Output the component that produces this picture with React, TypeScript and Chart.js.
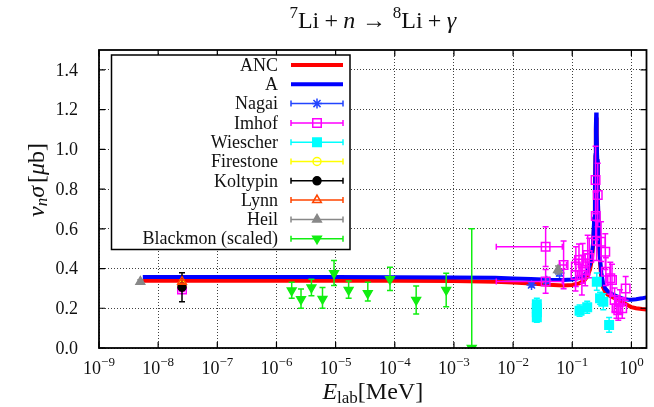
import React, { useEffect, useRef } from "react";
import { Chart, registerables } from "chart.js";
Chart.register(...registerables);

const FONT = '"Liberation Serif", "Times New Roman", serif';

// ---- axes ----
const xTickValues = [1e-9, 1e-8, 1e-7, 1e-6, 1e-5, 1e-4, 1e-3, 1e-2, 1e-1, 1];
const xTickExponents = ["\u22129", "\u22128", "\u22127", "\u22126", "\u22125", "\u22124", "\u22123", "\u22122", "\u22121", "0"];
const yTickValues = [0, 0.2, 0.4, 0.6, 0.8, 1.0, 1.2, 1.4];
const yTickLabels = ["0.0", "0.2", "0.4", "0.6", "0.8", "1.0", "1.2", "1.4"];

// ---- model curves ----
const curveE = [5.5e-9, 1e-8, 1e-7, 1e-6, 1e-5, 1e-4, 1e-3, 0.005, 0.01, 0.02, 0.04, 0.07, 0.1, 0.13, 0.16, 0.18, 0.2, 0.215, 0.225, 0.235, 0.242, 0.247, 0.251, 0.254, 0.257, 0.26, 0.264, 0.27, 0.277, 0.285, 0.295, 0.31, 0.33, 0.36, 0.4, 0.45, 0.5, 0.6, 0.7, 0.8, 0.9, 1.0, 1.2, 1.5, 1.8];
const ancV = [0.338, 0.338, 0.338, 0.338, 0.338, 0.338, 0.337, 0.334, 0.33, 0.325, 0.318, 0.315, 0.317, 0.325, 0.34, 0.36, 0.395, 0.445, 0.51, 0.64, 0.79, 0.96, 1.1, 1.16, 1.14, 1.07, 0.94, 0.78, 0.63, 0.515, 0.43, 0.355, 0.308, 0.282, 0.268, 0.26, 0.253, 0.243, 0.232, 0.222, 0.213, 0.206, 0.2, 0.196, 0.194];
const aV = [0.357, 0.357, 0.357, 0.357, 0.357, 0.356, 0.355, 0.353, 0.35, 0.347, 0.343, 0.342, 0.345, 0.352, 0.367, 0.385, 0.42, 0.47, 0.53, 0.65, 0.8, 0.97, 1.12, 1.185, 1.16, 1.08, 0.95, 0.79, 0.64, 0.53, 0.45, 0.38, 0.33, 0.3, 0.285, 0.275, 0.268, 0.258, 0.25, 0.245, 0.243, 0.243, 0.245, 0.25, 0.255];

// ---- experimental data ----
const nagaiE = [0.0205, 0.037, 0.061];
const nagaiV = [0.317, 0.338, 0.378];
const nagaiErr = [0.01, 0.012, 0.015];

const imhofE = [2.53e-8, 0.0355, 0.0355, 0.0714, 0.1135, 0.115, 0.13, 0.1455, 0.15, 0.166, 0.1825, 0.194, 0.248, 0.27, 0.25, 0.258, 0.307, 0.362, 0.37, 0.44, 0.47, 0.52, 0.56, 0.6, 0.64, 0.7, 0.8];
const imhofV = [0.295, 0.51, 0.335, 0.418, 0.367, 0.41, 0.443, 0.367, 0.426, 0.393, 0.468, 0.453, 0.846, 0.77, 0.665, 0.54, 0.535, 0.485, 0.384, 0.351, 0.342, 0.242, 0.2, 0.19, 0.233, 0.2, 0.3];
const imhofErr = [0.01, 0.1, 0.06, 0.12, 0.08, 0.1, 0.08, 0.1, 0.1, 0.08, 0.1, 0.1, 0.17, 0.16, 0.12, 0.1, 0.1, 0.09, 0.07, 0.08, 0.08, 0.06, 0.05, 0.05, 0.06, 0.05, 0.06];
const imhofELo = [null, 0.0052, 0.0052, 0.062, null, null, null, null, null, null, null, null, null, null, null, null, null, null, null, null, null, null, null, null, null, null, null];
const imhofEHi = [null, 0.068, 0.068, 0.08, null, null, null, null, null, null, null, null, null, null, null, null, null, null, null, null, null, null, null, null, null, null, null];

const wieE = [0.0252, 0.0252, 0.0252, 0.0252, 0.133, 0.179, 0.26, 0.295, 0.335, 0.42];
const wieV = [0.22, 0.2, 0.18, 0.155, 0.188, 0.205, 0.334, 0.25, 0.233, 0.116];
const wieErr = [0.03, 0.02, 0.02, 0.025, 0.028, 0.03, 0.043, 0.03, 0.04, 0.037];

const firestoneE = [2.53e-8];
const firestoneV = [0.317];
const firestoneErr = [0.005];

const koltypinE = [2.53e-8];
const koltypinV = [0.306];
const koltypinErr = [0.073];

const lynnE = [2.53e-8];
const lynnV = [0.334];
const lynnErr = [0.01];

const heilE = [5e-9, 0.0575];
const heilV = [0.334, 0.393];
const heilErr = [0.01, 0.02];

const blackmonE = [1.81e-6, 2.6e-6, 3.9e-6, 6.0e-6, 9.4e-6, 1.66e-5, 3.5e-5, 8.3e-5, 2.3e-4, 7.4e-4, 2.0e-3];
const blackmonV = [0.289, 0.245, 0.304, 0.247, 0.376, 0.292, 0.275, 0.346, 0.242, 0.292, 0.0];
const blackmonLo = [0.25, 0.2, 0.263, 0.2, 0.314, 0.25, 0.237, 0.29, 0.171, 0.208, 0.0];
const blackmonHi = [0.331, 0.297, 0.346, 0.304, 0.44, 0.337, 0.331, 0.406, 0.312, 0.376, 0.6];

const legendLabels = ["ANC", "A", "Nagai", "Imhof", "Wiescher", "Firestone", "Koltypin", "Lynn", "Heil", "Blackmon (scaled)"];

// ---- styles ----
const RED = "#ff0000";
const BLUE = "#0000ff";
const NAGAI = "#2244ff";
const MAGENTA = "#ff00ff";
const CYAN = "#00ffff";
const YELLOW = "#ffff00";
const BLACK = "#000000";
const ORANGE = "#ff4500";
const GRAY = "#888888";
const GREEN = "#11ee11";

type Marker = { style: string; r: number; color: string; fill: boolean; rot?: number };
type ErrSpec = { lo: (number | null)[]; hi: (number | null)[]; xlo?: (number | null)[]; xhi?: (number | null)[] } | null;

const pts = (E: number[], V: number[]) => E.map((e, i) => ({ x: e, y: V[i] }));
const sym = (V: number[], D: number[]) => ({ lo: V.map((v, i) => v - D[i]), hi: V.map((v, i) => v + D[i]) });

type Part = { t?: string; it?: boolean; scale?: number; dy?: number; gap?: number };

function fontOf(p: Part, size: number) {
  return `${p.it ? "italic " : ""}${Math.round(size * (p.scale || 1))}px ${FONT}`;
}
function drawRich(ctx: CanvasRenderingContext2D, parts: Part[], x: number, y: number, size: number, align: string) {
  let w = 0;
  for (const p of parts) {
    if (p.gap) w += p.gap * size;
    else { ctx.font = fontOf(p, size); w += ctx.measureText(p.t || "").width; }
  }
  let cx = align === "center" ? x - w / 2 : align === "right" ? x - w : x;
  ctx.textAlign = "left";
  for (const p of parts) {
    if (p.gap) { cx += p.gap * size; continue; }
    ctx.font = fontOf(p, size);
    ctx.fillText(p.t || "", cx, y + (p.dy || 0) * size);
    cx += ctx.measureText(p.t || "").width;
  }
}

function drawMarker(ctx: CanvasRenderingContext2D, m: Marker, x: number, y: number) {
  ctx.save();
  ctx.strokeStyle = m.color;
  ctx.fillStyle = m.color;
  ctx.lineWidth = 1.5;
  ctx.setLineDash([]);
  ctx.beginPath();
  const r = m.r;
  if (m.style === "rect") {
    const s = r * Math.SQRT1_2;
    ctx.rect(x - s, y - s, 2 * s, 2 * s);
  } else if (m.style === "circle") {
    ctx.arc(x, y, r, 0, Math.PI * 2);
  } else if (m.style === "triangle") {
    let a = ((m.rot || 0) * Math.PI) / 180;
    ctx.moveTo(x + Math.sin(a) * r, y - Math.cos(a) * r);
    a += (2 * Math.PI) / 3;
    ctx.lineTo(x + Math.sin(a) * r, y - Math.cos(a) * r);
    a += (2 * Math.PI) / 3;
    ctx.lineTo(x + Math.sin(a) * r, y - Math.cos(a) * r);
    ctx.closePath();
  } else if (m.style === "star") {
    for (let k = 0; k < 4; k++) {
      const a = (k * Math.PI) / 4;
      ctx.moveTo(x - Math.cos(a) * r, y - Math.sin(a) * r);
      ctx.lineTo(x + Math.cos(a) * r, y + Math.sin(a) * r);
    }
  }
  if (m.fill && m.style !== "star") ctx.fill();
  ctx.stroke();
  ctx.restore();
}

export default function App() {
  const ref = useRef<HTMLCanvasElement>(null);

  useEffect(() => {
    document.body.style.margin = "0";
    const canvas = ref.current!;

    const series: { label: string; data: any[]; color: string; line?: number; marker?: Marker; err: ErrSpec }[] = [
      { label: "ANC", data: pts(curveE, ancV), color: RED, line: 4, err: null },
      { label: "A", data: pts(curveE, aV), color: BLUE, line: 4, err: null },
      { label: "Nagai", data: pts(nagaiE, nagaiV), color: NAGAI, marker: { style: "star", r: 5, color: NAGAI, fill: false }, err: sym(nagaiV, nagaiErr) },
      { label: "Imhof", data: pts(imhofE, imhofV), color: MAGENTA, marker: { style: "rect", r: 6, color: MAGENTA, fill: false }, err: { ...sym(imhofV, imhofErr), xlo: imhofELo, xhi: imhofEHi } },
      { label: "Wiescher", data: pts(wieE, wieV), color: CYAN, marker: { style: "rect", r: 6, color: CYAN, fill: true }, err: sym(wieV, wieErr) },
      { label: "Firestone", data: pts(firestoneE, firestoneV), color: YELLOW, marker: { style: "circle", r: 4, color: YELLOW, fill: false }, err: sym(firestoneV, firestoneErr) },
      { label: "Koltypin", data: pts(koltypinE, koltypinV), color: BLACK, marker: { style: "circle", r: 4, color: BLACK, fill: true }, err: sym(koltypinV, koltypinErr) },
      { label: "Lynn", data: pts(lynnE, lynnV), color: ORANGE, marker: { style: "triangle", r: 5, color: ORANGE, fill: false }, err: sym(lynnV, lynnErr) },
      { label: "Heil", data: pts(heilE, heilV), color: GRAY, marker: { style: "triangle", r: 5, color: GRAY, fill: true }, err: sym(heilV, heilErr) },
      { label: "Blackmon (scaled)", data: pts(blackmonE, blackmonV), color: GREEN, marker: { style: "triangle", r: 5, color: GREEN, fill: true, rot: 180 }, err: { lo: blackmonLo, hi: blackmonHi } },
    ];

    const datasets = series.map((s, i) => {
      const order = 20 - i;
      if (s.line) {
        return {
          label: s.label, data: s.data, showLine: true, borderColor: s.color, borderWidth: s.line,
          pointRadius: 0, tension: 0, order, fill: false,
        };
      }
      const m = s.marker!;
      return {
        label: s.label, data: s.data, showLine: false, order,
        pointStyle: m.style, pointRadius: m.r, pointRotation: m.rot || 0,
        pointBorderColor: m.color, pointBackgroundColor: m.fill ? m.color : "rgba(0,0,0,0)",
        pointBorderWidth: 1.5, borderColor: m.color, backgroundColor: m.fill ? m.color : "rgba(0,0,0,0)",
      };
    });

    const decor = {
      id: "decor",
      beforeDatasetDraw(chart: any, args: any) {
        const s = series[args.index];
        if (!s || !s.err) return;
        const { ctx, chartArea: ca } = chart;
        const xs = chart.scales.x, ys = chart.scales.y;
        ctx.save();
        ctx.beginPath();
        ctx.rect(ca.left, ca.top, ca.right - ca.left, ca.bottom - ca.top);
        ctx.clip();
        ctx.strokeStyle = s.color;
        ctx.lineWidth = 1.5;
        ctx.setLineDash([]);
        const cap = 3;
        s.data.forEach((p: any, i: number) => {
          const px = xs.getPixelForValue(p.x);
          const lo = s.err!.lo[i], hi = s.err!.hi[i];
          ctx.beginPath();
          if (lo != null && hi != null) {
            const y1 = ys.getPixelForValue(lo), y2 = ys.getPixelForValue(hi);
            ctx.moveTo(px, y1); ctx.lineTo(px, y2);
            ctx.moveTo(px - cap, y1); ctx.lineTo(px + cap, y1);
            ctx.moveTo(px - cap, y2); ctx.lineTo(px + cap, y2);
          }
          const xl = s.err!.xlo ? s.err!.xlo[i] : null, xh = s.err!.xhi ? s.err!.xhi[i] : null;
          if (xl != null && xh != null) {
            const py = ys.getPixelForValue(p.y);
            const x1 = xs.getPixelForValue(xl), x2 = xs.getPixelForValue(xh);
            ctx.moveTo(x1, py); ctx.lineTo(x2, py);
            ctx.moveTo(x1, py - cap); ctx.lineTo(x1, py + cap);
            ctx.moveTo(x2, py - cap); ctx.lineTo(x2, py + cap);
          }
          ctx.stroke();
        });
        ctx.restore();
      },
      afterDraw(chart: any) {
        const { ctx, chartArea: ca } = chart;
        const xs = chart.scales.x, ys = chart.scales.y;
        ctx.save();
        ctx.setLineDash([]);
        // frame
        ctx.strokeStyle = "#000";
        ctx.lineWidth = 1.8;
        ctx.strokeRect(ca.left, ca.top, ca.right - ca.left, ca.bottom - ca.top);
        // inward ticks
        ctx.lineWidth = 1.2;
        ctx.beginPath();
        const tl = 6;
        xTickValues.forEach((v) => {
          const px = xs.getPixelForValue(v);
          ctx.moveTo(px, ca.bottom); ctx.lineTo(px, ca.bottom - tl);
          ctx.moveTo(px, ca.top); ctx.lineTo(px, ca.top + tl);
        });
        yTickValues.forEach((v) => {
          const py = ys.getPixelForValue(v);
          ctx.moveTo(ca.left, py); ctx.lineTo(ca.left + tl, py);
          ctx.moveTo(ca.right, py); ctx.lineTo(ca.right - tl, py);
        });
        ctx.stroke();

        ctx.fillStyle = "#111";
        ctx.textBaseline = "alphabetic";
        // x tick labels
        xTickValues.forEach((v, i) => {
          const px = xs.getPixelForValue(v);
          drawRich(ctx, [{ t: "10" }, { t: xTickExponents[i], scale: 0.7, dy: -0.42 }], px, 374, 18, "center");
        });
        // y tick labels
        ctx.textBaseline = "middle";
        yTickValues.forEach((v, i) => {
          const py = ys.getPixelForValue(v);
          drawRich(ctx, [{ t: yTickLabels[i] }], 78, py + 1, 18, "right");
        });
        // title
        ctx.textBaseline = "alphabetic";
        drawRich(ctx, [
          { t: "7", scale: 0.7, dy: -0.4 }, { t: "Li" }, { gap: 0.22 }, { t: "+" }, { gap: 0.22 }, { t: "n", it: true },
          { gap: 0.28 }, { t: "\u2192" }, { gap: 0.28 }, { t: "8", scale: 0.7, dy: -0.4 }, { t: "Li" }, { gap: 0.22 },
          { t: "+" }, { gap: 0.22 }, { t: "\u03b3", it: true },
        ], (ca.left + ca.right) / 2, 28, 24, "center");
        // x title
        drawRich(ctx, [{ t: "E", it: true }, { t: "lab", scale: 0.7, dy: 0.18 }, { t: "[MeV]" }], (ca.left + ca.right) / 2, 399, 24, "center");
        // y title
        ctx.save();
        ctx.translate(38, 180);
        ctx.rotate(-Math.PI / 2);
        ctx.textBaseline = "middle";
        drawRich(ctx, [
          { t: "v", it: true }, { t: "n", it: true, scale: 0.7, dy: 0.2 }, { t: "\u03c3", it: true }, { gap: 0.12 },
          { t: "[" }, { t: "\u03bc", it: true }, { t: "b" }, { t: "]" },
        ], 0, 0, 24, "center");
        ctx.restore();

        // legend box
        const bx = 111.5, by = 55, bw = 238.5, bh = 194.5;
        ctx.fillStyle = "#fff";
        ctx.fillRect(bx, by, bw, bh);
        ctx.strokeStyle = "#000";
        ctx.lineWidth = 1.5;
        ctx.strokeRect(bx, by, bw, bh);
        ctx.textBaseline = "middle";
        series.forEach((s, i) => {
          const y = 65 + i * 19.3;
          ctx.fillStyle = "#111";
          drawRich(ctx, [{ t: legendLabels[i] }], 278, y + 1, 18, "right");
          const x1 = 291, x2 = 343;
          ctx.strokeStyle = s.color;
          ctx.beginPath();
          if (s.line) {
            ctx.lineWidth = 4;
            ctx.moveTo(x1, y); ctx.lineTo(x2, y);
          } else {
            ctx.lineWidth = 1.5;
            ctx.moveTo(x1, y); ctx.lineTo(x2, y);
            ctx.moveTo(x1, y - 3); ctx.lineTo(x1, y + 3);
            ctx.moveTo(x2, y - 3); ctx.lineTo(x2, y + 3);
          }
          ctx.stroke();
          if (s.marker) drawMarker(ctx, s.marker, (x1 + x2) / 2, y);
        });
        ctx.restore();
      },
    };

    const chart = new Chart(canvas, {
      type: "scatter",
      data: { datasets: datasets as any },
      options: {
        responsive: false,
        animation: false,
        devicePixelRatio: 1,
        layout: { padding: { left: 99, right: 3, top: 50, bottom: 59 } },
        plugins: { legend: { display: false }, tooltip: { enabled: false }, title: { display: false } },
        scales: {
          x: {
            type: "logarithmic", min: 1e-9, max: 1.8,
            afterBuildTicks: (s: any) => { s.ticks = xTickValues.map((v) => ({ value: v, major: true })); },
            ticks: { display: false },
            grid: { color: "rgba(0,0,0,0.75)", lineWidth: 1, drawTicks: false },
            border: { display: false, dash: [1, 2] },
          },
          y: {
            type: "linear", min: 0, max: 1.5,
            afterBuildTicks: (s: any) => { s.ticks = yTickValues.map((v) => ({ value: v })); },
            ticks: { display: false },
            grid: { color: "rgba(0,0,0,0.75)", lineWidth: 1, drawTicks: false },
            border: { display: false, dash: [1, 2] },
          },
        },
      } as any,
      plugins: [decor],
    });
    return () => chart.destroy();
  }, []);

  return <canvas ref={ref} width={654} height={407} style={{ position: "absolute", left: 0, top: 0, display: "block" }} />;
}
